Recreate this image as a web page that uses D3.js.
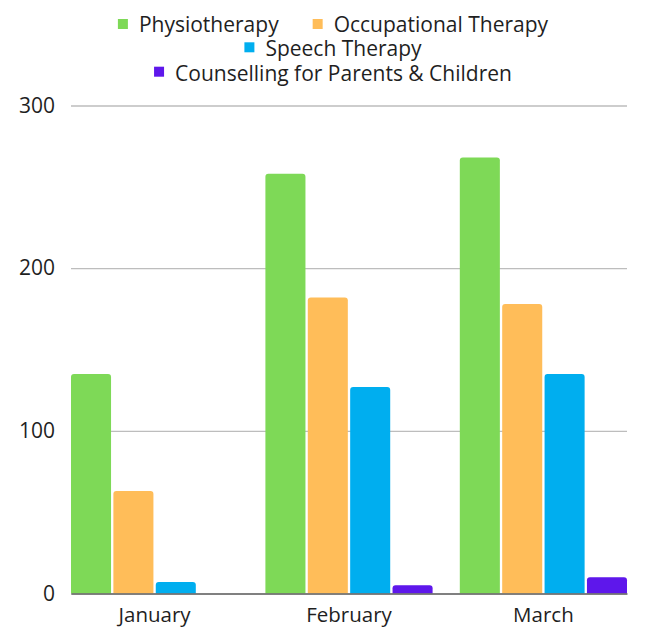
<!DOCTYPE html>
<html lang="en">
<head>
<meta charset="utf-8">
<title>Therapy sessions</title>
<script src="https://cdnjs.cloudflare.com/ajax/libs/d3/7.8.5/d3.min.js"></script>
<style>
  body { margin: 0; background: #fff; }
  text { font-family: "Open Sans", sans-serif; fill: #1f1f1f; }
</style>
</head>
<body>
<div id="chart"></div>
<script>
const months = ["January", "February", "March"];
const series = ["Physiotherapy", "Occupational Therapy", "Speech Therapy", "Counselling for Parents & Children"];
const physio = [135, 258, 268];
const occupational = [63, 182, 178];
const speech = [7, 127, 135];
const counselling = [0, 5, 10];
const yTicks = [0, 100, 200, 300];
const colors = ["#7ed957", "#ffbd59", "#00aeef", "#5e17eb"];
const legendRows = [[0, 1], [2], [3]];

const width = 647, height = 630;
const plotLeft = 71, plotRight = 627, plotTop = 105.5, plotBottom = 593.5;

const values = [physio, occupational, speech, counselling];
const data = [];
months.forEach((m, i) => {
  series.forEach((s, j) => data.push({ month: m, series: s, value: values[j][i], color: colors[j] }));
});

const svg = d3.select("#chart").append("svg")
  .attr("width", width).attr("height", height);

const x = d3.scaleBand().domain(months).range([plotLeft, plotRight]).paddingInner(0.14).paddingOuter(0);
const xInner = d3.scaleBand().domain(series).range([0, x.bandwidth()]).paddingInner(0.055);
const y = d3.scaleLinear().domain([0, 300]).range([plotBottom, plotTop]);

// gridlines + y labels
const yAxis = d3.axisLeft(y).tickValues(yTicks).tickSize(-(plotRight - plotLeft)).tickPadding(16);
const gy = svg.append("g").attr("transform", `translate(${plotLeft},0)`).call(yAxis);
gy.select(".domain").remove();
gy.selectAll(".tick line").attr("stroke", "#bdbdbd").attr("stroke-width", 1.3);
gy.selectAll(".tick text").attr("font-size", 21).attr("font-family", "Open Sans").attr("fill", "#1f1f1f");

// bars with rounded tops
const r = 3;
function barPath(d) {
  const x0 = x(d.month) + xInner(d.series), w = xInner.bandwidth();
  const y0 = y(d.value), y1 = y(0);
  const h = y1 - y0;
  if (h <= 0) return "";
  const rr = Math.min(r, h);
  return `M${x0},${y1}V${y0 + rr}Q${x0},${y0} ${x0 + rr},${y0}H${x0 + w - rr}Q${x0 + w},${y0} ${x0 + w},${y0 + rr}V${y1}Z`;
}
svg.append("g").selectAll("path").data(data).join("path")
  .attr("d", barPath)
  .attr("fill", d => d.color);

// x axis
const xAxis = d3.axisBottom(x).tickSize(0).tickPadding(14);
const gx = svg.append("g").attr("transform", `translate(0,${plotBottom})`).call(xAxis);
gx.select(".domain").attr("stroke", "#666").attr("stroke-width", 1.6);
gx.selectAll(".tick text").attr("font-size", 20.5).attr("font-family", "Open Sans").attr("fill", "#1f1f1f");

// legend, centred rows
const legendCx = 333, boxY = [24, 47.3, 71.7], textY = [31.7, 56, 81], box = 10, boxGap = 11, itemGap = 34;
legendRows.forEach((row, ri) => {
  const g = svg.append("g");
  let cx = 0;
  row.forEach(j => {
    const it = g.append("g").attr("transform", `translate(${cx},0)`);
    it.append("rect").attr("x", 0).attr("y", boxY[ri] - box / 2).attr("width", box).attr("height", box)
      .attr("fill", colors[j]);
    const t = it.append("text").attr("x", box + boxGap).attr("y", textY[ri])
      .attr("font-size", 21).text(series[j]);
    cx += box + boxGap + t.node().getComputedTextLength() + itemGap;
  });
  const w = cx - itemGap;
  g.attr("transform", `translate(${legendCx - w / 2},0)`);
});
</script>
</body>
</html>
